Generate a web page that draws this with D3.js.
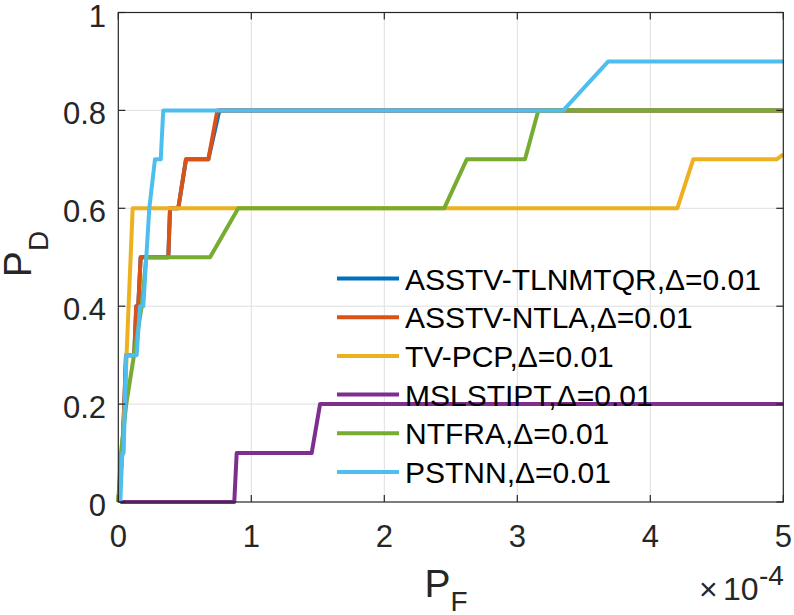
<!DOCTYPE html>
<html lang="en"><head><meta charset="UTF-8">
<title>PD vs PF</title>
<script src="https://d3js.org/d3.v7.min.js"></script>
<style>
  body { margin: 0; background: #fff; }
  text { font-family: "Liberation Sans", Arial, Helvetica, sans-serif; }
</style>
</head>
<body>
<script>
// series names (legend order)
var names = ["ASSTV-TLNMTQR", "ASSTV-NTLA", "TV-PCP", "MSLSTIPT", "NTFRA", "PSTNN"];
var colors = ["#0072BD", "#D95319", "#EDB120", "#7E2F8E", "#77AC30", "#4DBEEE"];

// PF values in units of 1e-4, PD values
var tlnmtqrX = [0, 0.03, 0.045, 0.058, 0.12, 0.135, 0.15, 0.168, 0.376, 0.389, 0.451, 0.509, 0.677, 0.76, 5];
var tlnmtqrY = [0, 0.1, 0.2, 0.3, 0.3, 0.4, 0.4, 0.5, 0.5, 0.6, 0.6, 0.7, 0.7, 0.8, 0.8];
var ntlaX = [0, 0.03, 0.045, 0.058, 0.12, 0.135, 0.15, 0.168, 0.376, 0.389, 0.451, 0.509, 0.677, 0.745, 5];
var ntlaY = [0, 0.1, 0.2, 0.3, 0.3, 0.4, 0.4, 0.5, 0.5, 0.6, 0.6, 0.7, 0.7, 0.8, 0.8];
var tvpcpX = [0, 0.03, 0.05, 0.062, 0.108, 4.203, 4.323, 4.95, 5];
var tvpcpY = [0, 0.1, 0.2, 0.3, 0.6, 0.6, 0.7, 0.7, 0.71];
var mslX = [0.015, 0.872, 0.89, 1.454, 1.517, 5];
var mslY = [0, 0, 0.1, 0.1, 0.2, 0.2];
var ntfraX = [0, 0.02, 0.06, 0.118, 0.176, 0.21, 0.69, 0.902, 2.45, 2.62, 3.058, 3.158, 5];
var ntfraY = [0, 0.1, 0.2, 0.3, 0.4, 0.5, 0.5, 0.6, 0.6, 0.7, 0.7, 0.8, 0.8];
var pstnnX = [0.015, 0.03, 0.04, 0.06, 0.138, 0.163, 0.188, 0.233, 0.276, 0.319, 0.338, 3.346, 3.684, 5];
var pstnnY = [0, 0.1, 0.1, 0.3, 0.3, 0.4, 0.4, 0.6, 0.7, 0.7, 0.8, 0.8, 0.9, 0.9];

var xTicks = [0, 1, 2, 3, 4, 5];
var yTicks = [0, 0.2, 0.4, 0.6, 0.8, 1];
var yTickLabels = ["0", "0.2", "0.4", "0.6", "0.8", "1"];

var seriesX = [tlnmtqrX, ntlaX, tvpcpX, mslX, ntfraX, pstnnX];
var seriesY = [tlnmtqrY, ntlaY, tvpcpY, mslY, ntfraY, pstnnY];

var w = 794, h = 615;
var mLeft = 118.3, mRight = 783.3, mTop = 12.5, mBottom = 502;
var axisCol = "#262626";

var svg = d3.select("body").append("svg")
  .attr("width", w).attr("height", h);

var x = d3.scaleLinear().domain([0, 5]).range([mLeft, mRight]);
var y = d3.scaleLinear().domain([0, 1]).range([mBottom, mTop]);

// grid
svg.append("g").selectAll("line").data(xTicks.slice(1, -1)).enter().append("line")
  .attr("x1", function(d) { return x(d); }).attr("x2", function(d) { return x(d); })
  .attr("y1", mTop).attr("y2", mBottom)
  .attr("stroke", "#dfdfdf").attr("stroke-width", 1);
svg.append("g").selectAll("line").data(yTicks.slice(1, -1)).enter().append("line")
  .attr("y1", function(d) { return y(d); }).attr("y2", function(d) { return y(d); })
  .attr("x1", mLeft).attr("x2", mRight)
  .attr("stroke", "#dfdfdf").attr("stroke-width", 1);

// lines
var line = d3.line()
  .x(function(d) { return x(d[0]); })
  .y(function(d) { return y(d[1]); });

for (var i = 0; i < names.length; i++) {
  var pts = seriesX[i].map(function(v, j) { return [v, seriesY[i][j]]; });
  svg.append("path")
    .datum(pts)
    .attr("d", line)
    .attr("fill", "none")
    .attr("stroke", colors[i])
    .attr("stroke-width", 4)
    .attr("stroke-linejoin", "round");
}

// box and ticks (both sides, pointing inward)
svg.append("rect")
  .attr("x", mLeft).attr("y", mTop)
  .attr("width", mRight - mLeft).attr("height", mBottom - mTop)
  .attr("fill", "none").attr("stroke", axisCol).attr("stroke-width", 1.2);

var tl = 7;
xTicks.forEach(function(d) {
  svg.append("line").attr("x1", x(d)).attr("x2", x(d)).attr("y1", mBottom).attr("y2", mBottom - tl)
    .attr("stroke", axisCol).attr("stroke-width", 1.2);
  svg.append("line").attr("x1", x(d)).attr("x2", x(d)).attr("y1", mTop).attr("y2", mTop + tl)
    .attr("stroke", axisCol).attr("stroke-width", 1.2);
});
yTicks.forEach(function(d) {
  svg.append("line").attr("y1", y(d)).attr("y2", y(d)).attr("x1", mLeft).attr("x2", mLeft + tl)
    .attr("stroke", axisCol).attr("stroke-width", 1.2);
  svg.append("line").attr("y1", y(d)).attr("y2", y(d)).attr("x1", mRight).attr("x2", mRight - tl)
    .attr("stroke", axisCol).attr("stroke-width", 1.2);
});

// tick labels
svg.append("g").selectAll("text").data(xTicks).enter().append("text")
  .attr("x", function(d) { return x(d); })
  .attr("y", 547)
  .attr("text-anchor", "middle")
  .attr("font-size", 31)
  .attr("fill", axisCol)
  .text(function(d) { return d; });

svg.append("g").selectAll("text").data(yTicks).enter().append("text")
  .attr("x", 106)
  .attr("y", function(d) { return y(d) + 14; })
  .attr("text-anchor", "end")
  .attr("font-size", 31)
  .attr("fill", axisCol)
  .text(function(d, k) { return yTickLabels[k]; });

// exponent label
svg.append("text").attr("x", 699).attr("y", 600)
  .attr("font-size", 32).attr("fill", axisCol).text("\u00d7");
svg.append("text").attr("x", 723).attr("y", 600)
  .attr("font-size", 32).attr("fill", axisCol).text("10");
svg.append("text").attr("x", 759).attr("y", 585)
  .attr("font-size", 28).attr("fill", axisCol).text("-4");

// axis labels
var xl = svg.append("text").attr("x", 446).attr("y", 597)
  .attr("text-anchor", "middle").attr("font-size", 39).attr("fill", axisCol);
xl.append("tspan").text("P");
xl.append("tspan").attr("font-size", 28).attr("dy", 14).text("F");

var yl = svg.append("text")
  .attr("transform", "translate(31,254) rotate(-90)")
  .attr("text-anchor", "middle").attr("font-size", 39).attr("fill", axisCol);
yl.append("tspan").text("P");
yl.append("tspan").attr("font-size", 28).attr("dy", 17).text("D");

// legend (no box)
var lg = svg.append("g");
names.forEach(function(n, k) {
  var cy = 278.5 + k * 38.7;
  lg.append("line").attr("x1", 337).attr("x2", 399).attr("y1", cy).attr("y2", cy)
    .attr("stroke", colors[k]).attr("stroke-width", 4);
  lg.append("text").attr("x", 405).attr("y", cy + 11)
    .attr("font-size", 30).attr("fill", "#000")
    .text(n + ",\u0394=0.01");
});
</script>
</body></html>
